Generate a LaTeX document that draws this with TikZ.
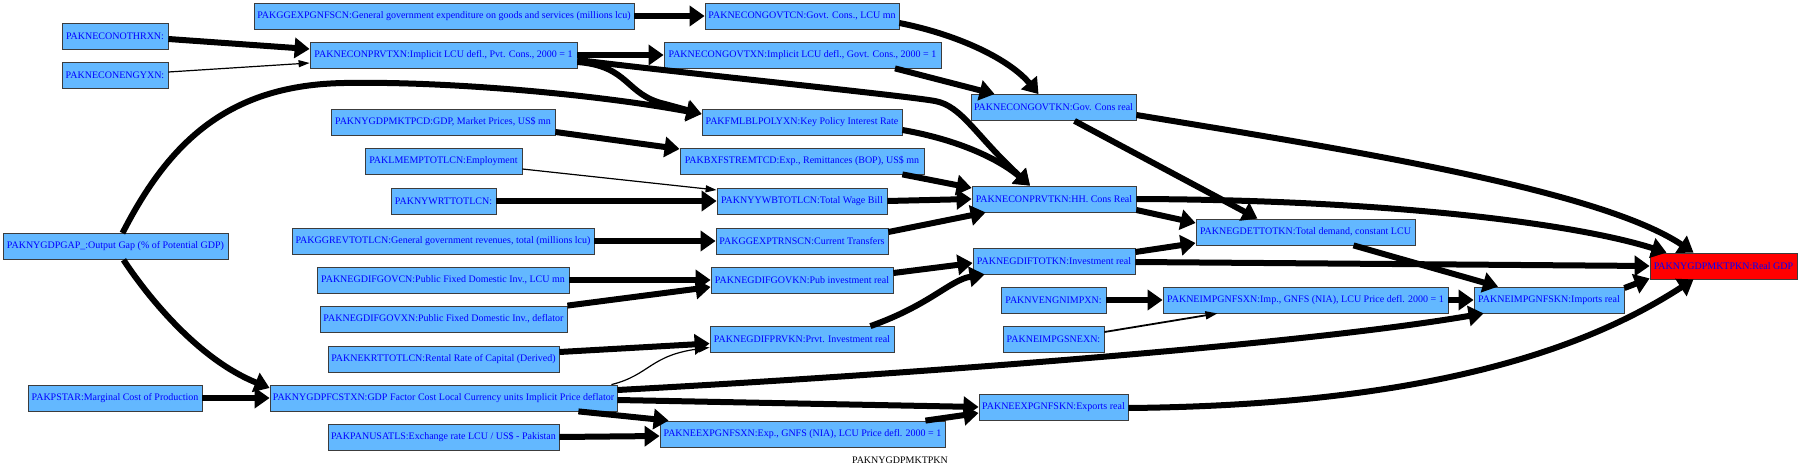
\documentclass[tikz,border=0pt]{standalone}
\usepackage{fontspec}
\setmainfont{Liberation Serif}
\usetikzlibrary{arrows.meta,calc}
\definecolor{boxblue}{RGB}{99,184,255}
\definecolor{boxedge}{RGB}{60,60,60}
\tikzset{
  box/.style={draw=boxedge, line width=0.8pt, fill=boxblue, text=blue, inner sep=0pt,
    minimum height=26pt, font=\fontsize{10pt}{12pt}\selectfont},
  fat/.style={line width=6pt, -{Triangle[length=15pt,width=20pt]}},
  slim/.style={line width=1.2pt, -{Triangle[length=11pt,width=7pt]}},
  midw/.style={line width=1.8pt, -{Triangle[length=12pt,width=8pt]}},
}
\begin{document}
\begin{tikzpicture}[x=1pt,y=-1pt]
\fill[white] (0,0) rectangle (1800,471);
\useasboundingbox (0,0) rectangle (1800,471);
% column 1
\node[box, minimum width=106pt] (OTHRXN) at (115,36) {PAKNECONOTHRXN:};
\node[box, minimum width=106pt] (ENGYXN) at (115,75) {PAKNECONENGYXN:};
\node[box, minimum width=225pt] (GAP) at (115.5,246.5) {PAKNYGDPGAP\_:Output Gap (\% of Potential GDP)};
\node[box, minimum width=174pt] (PSTAR) at (115,398) {PAKPSTAR:Marginal Cost of Production};
% column 2
\node[box, minimum width=380pt] (GGEXP) at (444,16) {PAKGGEXPGNFSCN:General government expenditure on goods and services (millions lcu)};
\node[box, minimum width=267pt] (PRVTXN) at (443.5,55) {PAKNECONPRVTXN:Implicit LCU defl., Pvt. Cons., 2000 = 1};
\node[box, minimum width=224pt] (MKTPCD) at (443,122) {PAKNYGDPMKTPCD:GDP, Market Prices, US\$ mn};
\node[box, minimum width=157pt] (LMEMP) at (443.5,161.5) {PAKLMEMPTOTLCN:Employment};
\node[box, minimum width=105pt] (NYWRT) at (443.5,201) {PAKNYWRTTOTLCN:};
\node[box, minimum width=302pt] (GGREV) at (443,241) {PAKGGREVTOTLCN:General government revenues, total (millions lcu)};
\node[box, minimum width=252pt] (GOVCN) at (443,280) {PAKNEGDIFGOVCN:Public Fixed Domestic Inv., LCU mn};
\node[box, minimum width=247pt] (GOVXN) at (443.5,319) {PAKNEGDIFGOVXN:Public Fixed Domestic Inv., deflator};
\node[box, minimum width=231pt] (NEKRT) at (443.5,359) {PAKNEKRTTOTLCN:Rental Rate of Capital (Derived)};
\node[box, minimum width=347pt] (FCSTXN) at (443.5,398) {PAKNYGDPFCSTXN:GDP Factor Cost Local Currency units Implicit Price deflator};
\node[box, minimum width=231pt] (PANUS) at (443.5,437) {PAKPANUSATLS:Exchange rate LCU / US\$ - Pakistan};
% column 3
\node[box, minimum width=194pt] (GOVTCN) at (802,16) {PAKNECONGOVTCN:Govt. Cons., LCU mn};
\node[box, minimum width=277pt] (GOVTXN) at (802.5,55) {PAKNECONGOVTXN:Implicit LCU defl., Govt. Cons., 2000 = 1};
\node[box, minimum width=200pt] (POLY) at (802,122) {PAKFMLBLPOLYXN:Key Policy Interest Rate};
\node[box, minimum width=244pt] (BXFS) at (802,161) {PAKBXFSTREMTCD:Exp., Remittances (BOP), US\$ mn};
\node[box, minimum width=170pt] (NYYWB) at (802,201) {PAKNYYWBTOTLCN:Total Wage Bill};
\node[box, minimum width=172pt] (TRNS) at (802,241) {PAKGGEXPTRNSCN:Current Transfers};
\node[box, minimum width=182pt] (GOVKN) at (802,280) {PAKNEGDIFGOVKN:Pub investment real};
\node[box, minimum width=184pt] (PRVKN) at (802,339.5) {PAKNEGDIFPRVKN:Prvt. Investment real};
\node[box, minimum width=285pt] (EXPXN) at (802.5,434) {PAKNEEXPGNFSXN:Exp., GNFS (NIA), LCU Price defl. 2000 = 1};
% column 4
\node[box, minimum width=165pt] (GOVTKN) at (1053.5,107.5) {PAKNECONGOVTKN:Gov. Cons real};
\node[box, minimum width=164pt] (PRVTKN) at (1054,199) {PAKNECONPRVTKN:HH. Cons Real};
\node[box, minimum width=162pt] (TOTKN) at (1054,261) {PAKNEGDIFTOTKN:Investment real};
\node[box, minimum width=105pt] (NVENG) at (1053.5,300) {PAKNVENGNIMPXN:};
\node[box, minimum width=101pt] (GSNEXN) at (1053.5,339.5) {PAKNEIMPGSNEXN:};
\node[box, minimum width=149pt] (EXPKN) at (1053.5,407) {PAKNEEXPGNFSKN:Exports real};
% column 5
\node[box, minimum width=219pt] (DETKN) at (1305.5,232) {PAKNEGDETTOTKN:Total demand, constant LCU};
\node[box, minimum width=285pt] (IMPXN) at (1305.5,300) {PAKNEIMPGNFSXN:Imp., GNFS (NIA), LCU Price defl. 2000 = 1};
% column 6
\node[box, minimum width=150pt] (IMPKN) at (1549,300) {PAKNEIMPGNFSKN:Imports real};
% column 7
\node[box, fill=red, minimum width=147pt] (GDP) at (1723.5,266) {PAKNYGDPMKTPKN:Real GDP};
% graph label
\node[font=\fontsize{10pt}{12pt}\selectfont, inner sep=0pt] (title) at (900,460) {PAKNYGDPMKTPKN};

% edges
\draw[fat] (GGEXP.east) -- (GOVTCN.west);
\draw[fat] ($(OTHRXN.east)+(0,3)$) -- ($(PRVTXN.west)+(0,-6)$);
\draw[slim] ($(ENGYXN.east)+(0,-3)$) -- ($(PRVTXN.west)+(0,8)$);
\draw[fat] (PRVTXN.east) -- (GOVTXN.west);
\draw[fat] ($(PRVTXN.east)+(0,7)$) .. controls (630,66) and (625,95) .. (665,104) -- ($(POLY.west)+(0,-8)$);
\draw[fat] ($(PRVTXN.east)+(0,5)$) .. controls (700,75) and (900,95) .. (935,101) .. controls (962,106) and (975,135) .. ($(PRVTKN.north)+(-24,0)$);
\draw[fat] ($(GOVTCN.east)+(0,7)$) .. controls (960,35) and (1010,60) .. ($(GOVTKN.north)+(-15,0)$);
\draw[fat] ($(GOVTXN.south)+(92.5,0)$) -- ($(GOVTKN.north west)+(24,0)$);
\draw[fat] ($(GAP.north)+(7,0)$) .. controls (170,140) and (230,85) .. (344,83) .. controls (450,81) and (600,95) .. ($(POLY.west)+(0,-8)$);
\draw[fat] ($(GAP.south)+(8,0)$) .. controls (150,300) and (200,360) .. ($(FCSTXN.west)+(0,-10)$);
\draw[fat] ($(MKTPCD.east)+(0,10)$) -- ($(BXFS.west)+(0,-12)$);
\draw[fat] ($(POLY.east)+(0,8)$) .. controls (960,140) and (1000,160) .. ($(PRVTKN.north)+(-24,0)$);
\draw[slim] ($(LMEMP.east)+(0,7.5)$) -- ($(NYYWB.west)+(0,-11)$);
\draw[fat] ($(BXFS.south east)+(-22,0)$) -- ($(PRVTKN.west)+(0,-11)$);
\draw[fat] (NYWRT.east) -- (NYYWB.west);
\draw[fat] (NYYWB.east) -- (PRVTKN.west);
\draw[fat] (GGREV.east) -- (TRNS.west);
\draw[fat] ($(TRNS.east)+(0,-9)$) -- ($(PRVTKN.south west)+(14,0)$);
\draw[fat] ($(GOVTKN.east)+(0,7.5)$) .. controls (1350,150) and (1600,190) .. ($(GDP.north)+(-30,0)$);
\draw[fat] ($(GOVTKN.south)+(21,0)$) -- ($(DETKN.north)+(-48,0)$);
\draw[fat] (PRVTKN.east) .. controls (1400,200) and (1580,225) .. ($(GDP.north)+(-57,0)$);
\draw[fat] ($(PRVTKN.east)+(0,11)$) -- ($(DETKN.west)+(0,-9)$);
\draw[fat] (GOVCN.east) -- (GOVKN.west);
\draw[fat] (GOVXN.north east) -- ($(GOVKN.west)+(0,7)$);
\draw[fat] ($(GOVKN.east)+(0,-7)$) -- ($(TOTKN.west)+(0,2)$);
\draw[fat] ($(PRVKN.north east)+(-24,0)$) .. controls (930,305) and (950,280) .. ($(TOTKN.south west)+(12,0)$);
\draw[fat] ($(TOTKN.east)+(0,-9)$) -- ($(DETKN.west)+(0,11)$);
\draw[fat] ($(TOTKN.east)+(0,1)$) -- (GDP.west);
\draw[fat] ($(DETKN.south)+(48,0)$) -- ($(IMPKN.north)+(-51,0)$);
\draw[fat] (NVENG.east) -- (IMPXN.west);
\draw[midw] ($(GSNEXN.east)+(0,-7.5)$) -- ($(IMPXN.south)+(-88,0)$);
\draw[fat] (IMPXN.east) -- (IMPKN.west);
\draw[fat] ($(IMPKN.east)+(0,-12)$) -- ($(GDP.south west)+(0,-1)$);
\draw[fat] ($(NEKRT.east)+(0,-7)$) -- ($(PRVKN.west)+(0,4)$);
\draw[slim] ($(FCSTXN.north east)+(-6,0)$) .. controls (650,375) and (650,355) .. ($(PRVKN.west)+(0,8)$);
\draw[fat] ($(FCSTXN.east)+(0,-8)$) .. controls (900,375) and (1300,345) .. ($(IMPKN.south west)+(10,0)$);
\draw[fat] ($(FCSTXN.east)+(0,2)$) -- (EXPKN.west);
\draw[fat] ($(FCSTXN.south east)+(-39,0)$) -- ($(EXPXN.north west)+(9,0)$);
\draw[fat] (PSTAR.east) -- (FCSTXN.west);
\draw[fat] (PANUS.east) -- ($(EXPXN.west)+(0,2)$);
\draw[fat] ($(EXPXN.north east)+(-20,0)$) -- ($(EXPKN.west)+(0,6)$);
\draw[fat] ($(EXPKN.east)+(0,1)$) .. controls (1450,405) and (1600,340) .. ($(GDP.south)+(-30,0)$);
\end{tikzpicture}
\end{document}
